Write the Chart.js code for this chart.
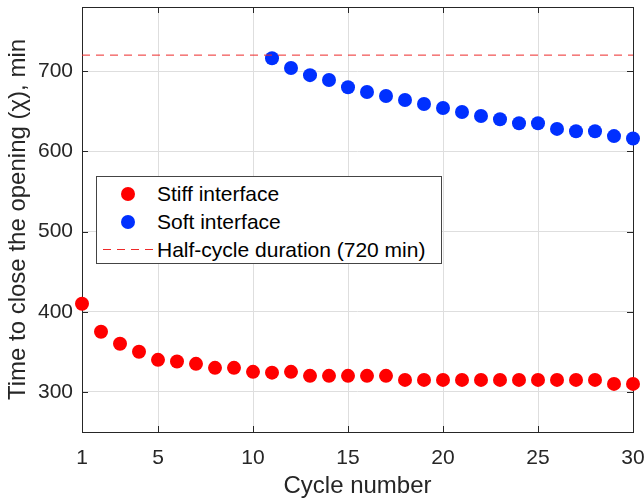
<!DOCTYPE html>
<html>
<head>
<meta charset="utf-8">
<script src="https://cdn.jsdelivr.net/npm/chart.js@4.4.1/dist/chart.umd.min.js"></script>
<style>
html, body { margin: 0; padding: 0; background: #fff; }
#wrap { position: relative; width: 644px; height: 503px; }
#legend {
	position: absolute; left: 96px; top: 176px; width: 346px; height: 88px;
	box-sizing: border-box; border: 1px solid #444; background: #fff;
	font-family: "Liberation Sans", Arial, sans-serif; font-size: 21px; color: #000;
}
.row { position: absolute; left: 0; width: 100%; height: 28px; }
.row span { position: absolute; left: 60px; top: 0; line-height: 28px; white-space: nowrap; }
.dot { position: absolute; left: 24px; top: 7px; width: 14px; height: 14px; border-radius: 50%; }
.dash {
	position: absolute; left: 6px; top: 13px; width: 50px; height: 1px;
	background: repeating-linear-gradient(90deg, #ee2a2a 0 8px, transparent 8px 14px);
}
</style>
</head>
<body>
<div id="wrap">
	<canvas id="closingTime" width="644" height="503"></canvas>
	<div id="legend">
		<div class="row" style="top:3px"><div class="dot" style="background:#ff0000"></div><span>Stiff interface</span></div>
		<div class="row" style="top:31px"><div class="dot" style="background:#0030ff"></div><span>Soft interface</span></div>
		<div class="row" style="top:59px"><div class="dash"></div><span>Half-cycle duration (720 min)</span></div>
	</div>
</div>
<script>
// cycles 1..30
var stiffCycles = [1, 2, 3, 4, 5, 6, 7, 8, 9, 10, 11, 12, 13, 14, 15, 16, 17, 18, 19, 20, 21, 22, 23, 24, 25, 26, 27, 28, 29, 30];
var stiffTime = [410, 375, 360, 350, 340, 338, 335, 330, 330, 325, 324, 325, 320, 320, 320, 320, 320, 315, 315, 315, 315, 315, 315, 315, 315, 315, 315, 315, 310, 310];

// soft interface only from cycle 11
var softCycles = [11, 12, 13, 14, 15, 16, 17, 18, 19, 20, 21, 22, 23, 24, 25, 26, 27, 28, 29, 30];
var softTime = [716, 704, 695, 689, 680, 674, 669, 664, 659, 654, 649, 644, 640, 635, 635, 628, 625, 625, 619, 616];

var halfCycleX = [1, 30];
var halfCycleY = [720, 720];

var xTickValues = [1, 5, 10, 15, 20, 25, 30];
var yTickValues = [300, 400, 500, 600, 700];

var FONT = '"Liberation Sans", Arial, sans-serif';
var AXIS_COLOR = '#262626';

function toPoints(xs, ys) {
	return xs.map(function (x, i) { return { x: x, y: ys[i] }; });
}

// box around the axes plus inward tick marks, matlab style
var axesBox = {
	id: 'axesBox',
	beforeDatasetsDraw: function (chart) {
		var a = chart.chartArea;
		var ctx = chart.ctx;
		var xs = chart.scales.x;
		var ys = chart.scales.y;
		ctx.save();
		ctx.strokeStyle = AXIS_COLOR;
		ctx.lineWidth = 1;
		ctx.strokeRect(Math.round(a.left) + 0.5, Math.round(a.top) + 0.5, Math.round(a.right - a.left), Math.round(a.bottom - a.top));
		ctx.beginPath();
		yTickValues.forEach(function (v) {
			var p = Math.round(ys.getPixelForValue(v)) + 0.5;
			ctx.moveTo(a.left, p); ctx.lineTo(a.left + 6, p);
			ctx.moveTo(a.right, p); ctx.lineTo(a.right - 6, p);
		});
		xTickValues.forEach(function (v) {
			var p = Math.round(xs.getPixelForValue(v)) + 0.5;
			ctx.moveTo(p, a.bottom); ctx.lineTo(p, a.bottom - 6);
			ctx.moveTo(p, a.top); ctx.lineTo(p, a.top + 6);
		});
		ctx.stroke();
		ctx.restore();
	}
};

var closingTimeData = {
	datasets: [{
		label: 'Half-cycle duration (720 min)',
		data: toPoints(halfCycleX, halfCycleY),
		showLine: true,
		borderColor: '#ee2a2a',
		borderWidth: 1,
		borderDash: [8, 6],
		pointRadius: 0,
		clip: false
	}, {
		label: 'Stiff interface',
		data: toPoints(stiffCycles, stiffTime),
		backgroundColor: '#ff0000',
		borderColor: '#ff0000',
		pointRadius: 7,
		pointBorderWidth: 0,
		clip: false
	}, {
		label: 'Soft interface',
		data: toPoints(softCycles, softTime),
		backgroundColor: '#0030ff',
		borderColor: '#0030ff',
		pointRadius: 7,
		pointBorderWidth: 0,
		clip: false
	}]
};

var closingTimeOptions = {
	responsive: false,
	animation: false,
	layout: {
		padding: { top: 7, right: 11, left: 0, bottom: 0 }
	},
	scales: {
		x: {
			type: 'linear',
			min: 1,
			max: 30,
			afterBuildTicks: function (scale) {
				scale.ticks = xTickValues.map(function (v) { return { value: v }; });
			},
			afterFit: function (scale) {
				scale.height = 71;
				scale.paddingLeft = 0;
				scale.paddingRight = 0;
			},
			grid: { color: '#dedede', drawTicks: false },
			border: { display: false },
			ticks: {
				padding: 14,
				autoSkip: false,
				maxRotation: 0,
				color: AXIS_COLOR,
				font: { family: FONT, size: 21 }
			},
			title: {
				display: true,
				text: 'Cycle number',
				color: AXIS_COLOR,
				font: { family: FONT, size: 24 },
				padding: { top: 0, bottom: 2 }
			}
		},
		y: {
			type: 'linear',
			min: 250,
			max: 780,
			afterBuildTicks: function (scale) {
				scale.ticks = yTickValues.map(function (v) { return { value: v }; });
			},
			afterFit: function (scale) {
				scale.width = 82;
				scale.paddingTop = 0;
				scale.paddingBottom = 0;
			},
			grid: { color: '#dedede', drawTicks: false },
			border: { display: false },
			ticks: {
				padding: 9,
				color: AXIS_COLOR,
				font: { family: FONT, size: 21 }
			},
			title: {
				display: true,
				text: 'Time to close the opening (\u03C7), min',
				color: AXIS_COLOR,
				font: { family: FONT, size: 24 },
				padding: { top: 4, bottom: 0 }
			}
		}
	},
	plugins: {
		legend: { display: false },
		tooltip: { enabled: false }
	}
};

var closingTimeChart = new Chart(
	document.getElementById('closingTime'),
	{
		type: 'scatter',
		data: closingTimeData,
		options: closingTimeOptions,
		plugins: [axesBox]
	}
);
</script>
</body>
</html>
